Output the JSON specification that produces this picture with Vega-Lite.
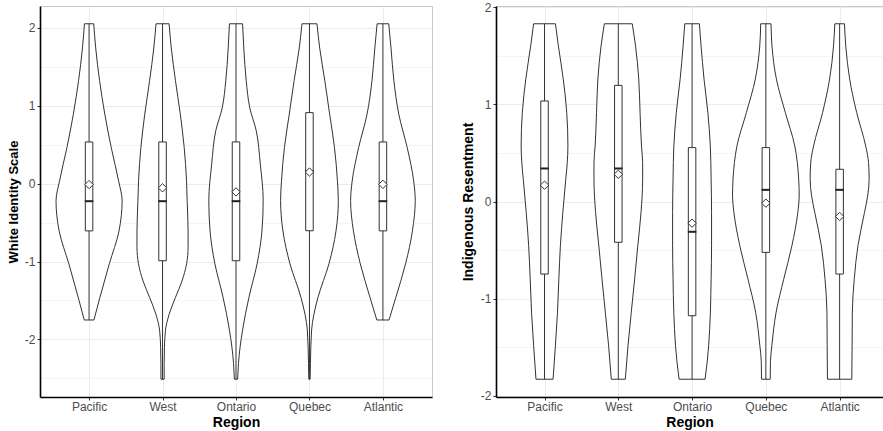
{
  "$schema": "https://vega.github.io/schema/vega-lite/v6.json",
  "padding": {"left": 6, "top": 0, "right": 0, "bottom": 0},
  "bounds": "flush",
  "spacing": 64,
  "background": "white",
  "config": {
    "font": "Liberation Sans",
    "view": {"stroke": "#c8c8c8", "strokeWidth": 1},
    "axis": {
      "labelFont": "Liberation Sans", "labelFontSize": 12, "labelColor": "#4d4d4d",
      "titleFont": "Liberation Sans", "titleFontWeight": "bold", "titleColor": "#000000",
      "gridColor": "#ebebeb", "gridWidth": 1,
      "domainColor": "#000000", "domainWidth": 1.6,
      "tickColor": "#333333", "tickSize": 3, "tickWidth": 1
    }
  },
  "datasets": {
    "violinL": [
      {"r":"Pacific","y":2.05,"w":0.063},{"r":"Pacific","y":1.74,"w":0.090},{"r":"Pacific","y":1.32,"w":0.143},{"r":"Pacific","y":0.89,"w":0.214},{"r":"Pacific","y":0.46,"w":0.302},{"r":"Pacific","y":0.03,"w":0.403},{"r":"Pacific","y":-0.22,"w":0.45},{"r":"Pacific","y":-0.61,"w":0.407},{"r":"Pacific","y":-1.03,"w":0.275},{"r":"Pacific","y":-1.46,"w":0.148},{"r":"Pacific","y":-1.75,"w":0.066},
      {"r":"West","y":2.05,"w":0.089},{"r":"West","y":1.74,"w":0.119},{"r":"West","y":1.32,"w":0.176},{"r":"West","y":0.89,"w":0.242},{"r":"West","y":0.46,"w":0.295},{"r":"West","y":0.03,"w":0.327},{"r":"West","y":-0.22,"w":0.335},{"r":"West","y":-0.61,"w":0.348},{"r":"West","y":-0.82,"w":0.348},{"r":"West","y":-1.03,"w":0.327},{"r":"West","y":-1.25,"w":0.265},{"r":"West","y":-1.46,"w":0.176},{"r":"West","y":-1.68,"w":0.089},{"r":"West","y":-1.88,"w":0.040},{"r":"West","y":-2.1,"w":0.026},{"r":"West","y":-2.31,"w":0.022},{"r":"West","y":-2.51,"w":0.022},
      {"r":"Ontario","y":2.05,"w":0.089},{"r":"Ontario","y":1.74,"w":0.106},{"r":"Ontario","y":1.32,"w":0.139},{"r":"Ontario","y":0.97,"w":0.188},{"r":"Ontario","y":0.68,"w":0.275},{"r":"Ontario","y":0.25,"w":0.331},{"r":"Ontario","y":-0.22,"w":0.370},{"r":"Ontario","y":-0.61,"w":0.353},{"r":"Ontario","y":-1.03,"w":0.287},{"r":"Ontario","y":-1.46,"w":0.176},{"r":"Ontario","y":-1.88,"w":0.089},{"r":"Ontario","y":-2.31,"w":0.033},{"r":"Ontario","y":-2.51,"w":0.022},
      {"r":"Quebec","y":2.05,"w":0.102},{"r":"Quebec","y":1.74,"w":0.139},{"r":"Quebec","y":1.32,"w":0.209},{"r":"Quebec","y":0.89,"w":0.275},{"r":"Quebec","y":0.46,"w":0.341},{"r":"Quebec","y":0.03,"w":0.381},{"r":"Quebec","y":-0.22,"w":0.393},{"r":"Quebec","y":-0.61,"w":0.361},{"r":"Quebec","y":-1.03,"w":0.265},{"r":"Quebec","y":-1.46,"w":0.116},{"r":"Quebec","y":-1.68,"w":0.060},{"r":"Quebec","y":-1.88,"w":0.029},{"r":"Quebec","y":-2.31,"w":0.013},{"r":"Quebec","y":-2.51,"w":0.009},
      {"r":"Atlantic","y":2.05,"w":0.079},{"r":"Atlantic","y":1.74,"w":0.110},{"r":"Atlantic","y":1.32,"w":0.149},{"r":"Atlantic","y":0.89,"w":0.216},{"r":"Atlantic","y":0.46,"w":0.331},{"r":"Atlantic","y":0.03,"w":0.419},{"r":"Atlantic","y":-0.22,"w":0.440},{"r":"Atlantic","y":-0.61,"w":0.401},{"r":"Atlantic","y":-1.03,"w":0.308},{"r":"Atlantic","y":-1.46,"w":0.176},{"r":"Atlantic","y":-1.75,"w":0.083}
    ],
    "violinR": [
      {"r":"Pacific","y":1.83,"w":0.148},{"r":"Pacific","y":1.60,"w":0.188},{"r":"Pacific","y":1.26,"w":0.254},{"r":"Pacific","y":0.915,"w":0.301},{"r":"Pacific","y":0.572,"w":0.317},{"r":"Pacific","y":0.40,"w":0.308},{"r":"Pacific","y":0.23,"w":0.288},{"r":"Pacific","y":-0.113,"w":0.248},{"r":"Pacific","y":-0.456,"w":0.215},{"r":"Pacific","y":-0.8,"w":0.194},{"r":"Pacific","y":-1.14,"w":0.176},{"r":"Pacific","y":-1.48,"w":0.148},{"r":"Pacific","y":-1.83,"w":0.116},
      {"r":"West","y":1.83,"w":0.189},{"r":"West","y":1.60,"w":0.234},{"r":"West","y":1.26,"w":0.277},{"r":"West","y":0.915,"w":0.295},{"r":"West","y":0.572,"w":0.314},{"r":"West","y":0.40,"w":0.330},{"r":"West","y":0.23,"w":0.330},{"r":"West","y":-0.113,"w":0.308},{"r":"West","y":-0.456,"w":0.264},{"r":"West","y":-0.8,"w":0.221},{"r":"West","y":-1.14,"w":0.176},{"r":"West","y":-1.48,"w":0.132},{"r":"West","y":-1.83,"w":0.095},
      {"r":"Ontario","y":1.83,"w":0.099},{"r":"Ontario","y":1.60,"w":0.122},{"r":"Ontario","y":1.26,"w":0.162},{"r":"Ontario","y":0.915,"w":0.214},{"r":"Ontario","y":0.572,"w":0.247},{"r":"Ontario","y":0.23,"w":0.258},{"r":"Ontario","y":-0.113,"w":0.264},{"r":"Ontario","y":-0.456,"w":0.264},{"r":"Ontario","y":-0.8,"w":0.258},{"r":"Ontario","y":-1.14,"w":0.248},{"r":"Ontario","y":-1.48,"w":0.225},{"r":"Ontario","y":-1.65,"w":0.205},{"r":"Ontario","y":-1.83,"w":0.176},
      {"r":"Quebec","y":1.83,"w":0.070},{"r":"Quebec","y":1.60,"w":0.083},{"r":"Quebec","y":1.26,"w":0.143},{"r":"Quebec","y":0.915,"w":0.264},{"r":"Quebec","y":0.572,"w":0.392},{"r":"Quebec","y":0.23,"w":0.445},{"r":"Quebec","y":0.058,"w":0.452},{"r":"Quebec","y":-0.113,"w":0.433},{"r":"Quebec","y":-0.456,"w":0.353},{"r":"Quebec","y":-0.8,"w":0.242},{"r":"Quebec","y":-1.14,"w":0.139},{"r":"Quebec","y":-1.48,"w":0.082},{"r":"Quebec","y":-1.65,"w":0.062},{"r":"Quebec","y":-1.83,"w":0.059},
      {"r":"Atlantic","y":1.83,"w":0.066},{"r":"Atlantic","y":1.60,"w":0.083},{"r":"Atlantic","y":1.26,"w":0.136},{"r":"Atlantic","y":0.915,"w":0.231},{"r":"Atlantic","y":0.572,"w":0.353},{"r":"Atlantic","y":0.40,"w":0.392},{"r":"Atlantic","y":0.23,"w":0.400},{"r":"Atlantic","y":0.058,"w":0.380},{"r":"Atlantic","y":-0.113,"w":0.337},{"r":"Atlantic","y":-0.456,"w":0.248},{"r":"Atlantic","y":-0.8,"w":0.198},{"r":"Atlantic","y":-1.14,"w":0.172},{"r":"Atlantic","y":-1.48,"w":0.169},{"r":"Atlantic","y":-1.83,"w":0.165}
    ],
    "boxL": [
      {"r":"Pacific","mn":-1.75,"mx":2.05,"q1":-0.607,"med":-0.226,"q3":0.534,"mean":-0.013},
      {"r":"West","mn":-2.51,"mx":2.05,"q1":-0.99,"med":-0.226,"q3":0.534,"mean":-0.055},
      {"r":"Ontario","mn":-2.51,"mx":2.05,"q1":-0.99,"med":-0.226,"q3":0.534,"mean":-0.107},
      {"r":"Quebec","mn":-2.51,"mx":2.05,"q1":-0.605,"med":0.158,"q3":0.91,"mean":0.148},
      {"r":"Atlantic","mn":-1.75,"mx":2.05,"q1":-0.607,"med":-0.226,"q3":0.534,"mean":-0.01}
    ],
    "boxR": [
      {"r":"Pacific","mn":-1.83,"mx":1.83,"q1":-0.747,"med":0.34,"q3":1.035,"mean":0.168},
      {"r":"West","mn":-1.83,"mx":1.83,"q1":-0.42,"med":0.34,"q3":1.196,"mean":0.28},
      {"r":"Ontario","mn":-1.83,"mx":1.83,"q1":-1.176,"med":-0.312,"q3":0.555,"mean":-0.223},
      {"r":"Quebec","mn":-1.83,"mx":1.83,"q1":-0.524,"med":0.12,"q3":0.555,"mean":-0.017},
      {"r":"Atlantic","mn":-1.83,"mx":1.83,"q1":-0.747,"med":0.12,"q3":0.332,"mean":-0.154}
    ]
  },
  "hconcat": [
    {
      "width": 392,
      "height": 391,
      "resolve": {"axis": {"y": "independent"}},
      "layer": [
        {
          "data": {"name": "violinL"},
          "transform": [
            {"calculate": "indexof(['Pacific','West','Ontario','Quebec','Atlantic'], datum.r) + 1", "as": "p"},
            {"calculate": "datum.p - datum.w", "as": "lo"},
            {"calculate": "datum.p + datum.w", "as": "hi"}
          ],
          "mark": {"type": "area", "orient": "horizontal", "interpolate": "monotone", "fill": "white", "stroke": "#333333", "strokeWidth": 1},
          "encoding": {
            "y": {"field": "y", "type": "quantitative", "scale": {"domain": [-2.738, 2.278], "nice": false, "zero": false},
                  "axis": {"values": [-2, -1, 0, 1, 2], "labelExpr": "datum.value < 0 ? '-' + abs(datum.value) : '' + datum.value", "title": "White Identity Scale", "titleFontSize": 13, "titlePadding": 4, "labelPadding": 2, "grid": true}},
            "x": {"field": "lo", "type": "quantitative", "scale": {"domain": [0.4, 5.6], "nice": false, "zero": false},
                  "axis": {"values": [1, 2, 3, 4, 5], "labelExpr": "['', 'Pacific', 'West', 'Ontario', 'Quebec', 'Atlantic'][datum.value]", "title": "Region", "titleFontSize": 14, "titlePadding": 3, "labelPadding": 1, "grid": true}},
            "x2": {"field": "hi"},
            "detail": {"field": "r", "type": "nominal"}
          }
        },
        {
          "data": {"name": "boxL"},
          "transform": [{"calculate": "indexof(['Pacific','West','Ontario','Quebec','Atlantic'], datum.r) + 1", "as": "p"}],
          "mark": {"type": "rule", "stroke": "#333333", "strokeWidth": 1},
          "encoding": {
            "x": {"field": "p", "type": "quantitative", "axis": {"values": [1, 2, 3, 4, 5], "labelExpr": "['', 'Pacific', 'West', 'Ontario', 'Quebec', 'Atlantic'][datum.value]", "title": "Region", "titleFontSize": 14, "titlePadding": 3, "labelPadding": 1, "grid": true}},
            "y": {"field": "mn", "type": "quantitative",
                  "axis": {"orient": "left", "values": [-2.5, -1.5, -0.5, 0.5, 1.5], "labels": false, "ticks": false, "domain": false, "grid": true, "gridColor": "#f1f1f1", "gridWidth": 0.8, "title": null}},
            "y2": {"field": "mx"}
          }
        },
        {
          "data": {"name": "boxL"},
          "transform": [{"calculate": "indexof(['Pacific','West','Ontario','Quebec','Atlantic'], datum.r) + 1", "as": "p"}],
          "mark": {"type": "bar", "width": 7.5, "fill": "white", "stroke": "#333333", "strokeWidth": 1},
          "encoding": {
            "x": {"field": "p", "type": "quantitative", "axis": {"values": [1, 2, 3, 4, 5], "labelExpr": "['', 'Pacific', 'West', 'Ontario', 'Quebec', 'Atlantic'][datum.value]", "title": "Region", "titleFontSize": 14, "titlePadding": 3, "labelPadding": 1, "grid": true}},
            "y": {"field": "q1", "type": "quantitative", "axis": null},
            "y2": {"field": "q3"}
          }
        },
        {
          "data": {"name": "boxL"},
          "transform": [{"calculate": "indexof(['Pacific','West','Ontario','Quebec','Atlantic'], datum.r) + 1", "as": "p"}],
          "mark": {"type": "tick", "orient": "horizontal", "size": 8.5, "thickness": 2, "color": "#222222", "opacity": 1},
          "encoding": {
            "x": {"field": "p", "type": "quantitative", "axis": {"values": [1, 2, 3, 4, 5], "labelExpr": "['', 'Pacific', 'West', 'Ontario', 'Quebec', 'Atlantic'][datum.value]", "title": "Region", "titleFontSize": 14, "titlePadding": 3, "labelPadding": 1, "grid": true}},
            "y": {"field": "med", "type": "quantitative", "axis": null}
          }
        },
        {
          "data": {"name": "boxL"},
          "transform": [{"calculate": "indexof(['Pacific','West','Ontario','Quebec','Atlantic'], datum.r) + 1", "as": "p"}],
          "mark": {"type": "point", "shape": "diamond", "size": 70, "filled": true, "fill": "white", "stroke": "#333333", "strokeWidth": 1, "opacity": 1},
          "encoding": {
            "x": {"field": "p", "type": "quantitative", "axis": {"values": [1, 2, 3, 4, 5], "labelExpr": "['', 'Pacific', 'West', 'Ontario', 'Quebec', 'Atlantic'][datum.value]", "title": "Region", "titleFontSize": 14, "titlePadding": 3, "labelPadding": 1, "grid": true}},
            "y": {"field": "mean", "type": "quantitative", "axis": null}
          }
        }
      ]
    },
    {
      "width": 387,
      "height": 391,
      "resolve": {"axis": {"y": "independent"}},
      "layer": [
        {
          "data": {"name": "violinR"},
          "transform": [
            {"calculate": "indexof(['Pacific','West','Ontario','Quebec','Atlantic'], datum.r) + 1", "as": "p"},
            {"calculate": "datum.p - datum.w", "as": "lo"},
            {"calculate": "datum.p + datum.w", "as": "hi"}
          ],
          "mark": {"type": "area", "orient": "horizontal", "interpolate": "monotone", "fill": "white", "stroke": "#333333", "strokeWidth": 1},
          "encoding": {
            "y": {"field": "y", "type": "quantitative", "scale": {"domain": [-2.013, 2.013], "nice": false, "zero": false},
                  "axis": {"values": [-2, -1, 0, 1, 2], "labelExpr": "datum.value < 0 ? '-' + abs(datum.value) : '' + datum.value", "title": "Indigenous Resentment", "titleFontSize": 14, "titlePadding": 5, "labelPadding": 2, "grid": true}},
            "x": {"field": "lo", "type": "quantitative", "scale": {"domain": [0.41, 5.52], "nice": false, "zero": false},
                  "axis": {"values": [1, 2, 3, 4, 5], "labelExpr": "['', 'Pacific', 'West', 'Ontario', 'Quebec', 'Atlantic'][datum.value]", "title": "Region", "titleFontSize": 14, "titlePadding": 3, "labelPadding": 1, "grid": true}},
            "x2": {"field": "hi"},
            "detail": {"field": "r", "type": "nominal"}
          }
        },
        {
          "data": {"name": "boxR"},
          "transform": [{"calculate": "indexof(['Pacific','West','Ontario','Quebec','Atlantic'], datum.r) + 1", "as": "p"}],
          "mark": {"type": "rule", "stroke": "#333333", "strokeWidth": 1},
          "encoding": {
            "x": {"field": "p", "type": "quantitative", "axis": {"values": [1, 2, 3, 4, 5], "labelExpr": "['', 'Pacific', 'West', 'Ontario', 'Quebec', 'Atlantic'][datum.value]", "title": "Region", "titleFontSize": 14, "titlePadding": 3, "labelPadding": 1, "grid": true}},
            "y": {"field": "mn", "type": "quantitative",
                  "axis": {"orient": "left", "values": [-1.5, -0.5, 0.5, 1.5], "labels": false, "ticks": false, "domain": false, "grid": true, "gridColor": "#f1f1f1", "gridWidth": 0.8, "title": null}},
            "y2": {"field": "mx"}
          }
        },
        {
          "data": {"name": "boxR"},
          "transform": [{"calculate": "indexof(['Pacific','West','Ontario','Quebec','Atlantic'], datum.r) + 1", "as": "p"}],
          "mark": {"type": "bar", "width": 7.5, "fill": "white", "stroke": "#333333", "strokeWidth": 1},
          "encoding": {
            "x": {"field": "p", "type": "quantitative", "axis": {"values": [1, 2, 3, 4, 5], "labelExpr": "['', 'Pacific', 'West', 'Ontario', 'Quebec', 'Atlantic'][datum.value]", "title": "Region", "titleFontSize": 14, "titlePadding": 3, "labelPadding": 1, "grid": true}},
            "y": {"field": "q1", "type": "quantitative", "axis": null},
            "y2": {"field": "q3"}
          }
        },
        {
          "data": {"name": "boxR"},
          "transform": [{"calculate": "indexof(['Pacific','West','Ontario','Quebec','Atlantic'], datum.r) + 1", "as": "p"}],
          "mark": {"type": "tick", "orient": "horizontal", "size": 8.5, "thickness": 2, "color": "#222222", "opacity": 1},
          "encoding": {
            "x": {"field": "p", "type": "quantitative", "axis": {"values": [1, 2, 3, 4, 5], "labelExpr": "['', 'Pacific', 'West', 'Ontario', 'Quebec', 'Atlantic'][datum.value]", "title": "Region", "titleFontSize": 14, "titlePadding": 3, "labelPadding": 1, "grid": true}},
            "y": {"field": "med", "type": "quantitative", "axis": null}
          }
        },
        {
          "data": {"name": "boxR"},
          "transform": [{"calculate": "indexof(['Pacific','West','Ontario','Quebec','Atlantic'], datum.r) + 1", "as": "p"}],
          "mark": {"type": "point", "shape": "diamond", "size": 70, "filled": true, "fill": "white", "stroke": "#333333", "strokeWidth": 1, "opacity": 1},
          "encoding": {
            "x": {"field": "p", "type": "quantitative", "axis": {"values": [1, 2, 3, 4, 5], "labelExpr": "['', 'Pacific', 'West', 'Ontario', 'Quebec', 'Atlantic'][datum.value]", "title": "Region", "titleFontSize": 14, "titlePadding": 3, "labelPadding": 1, "grid": true}},
            "y": {"field": "mean", "type": "quantitative", "axis": null}
          }
        }
      ]
    }
  ]
}
